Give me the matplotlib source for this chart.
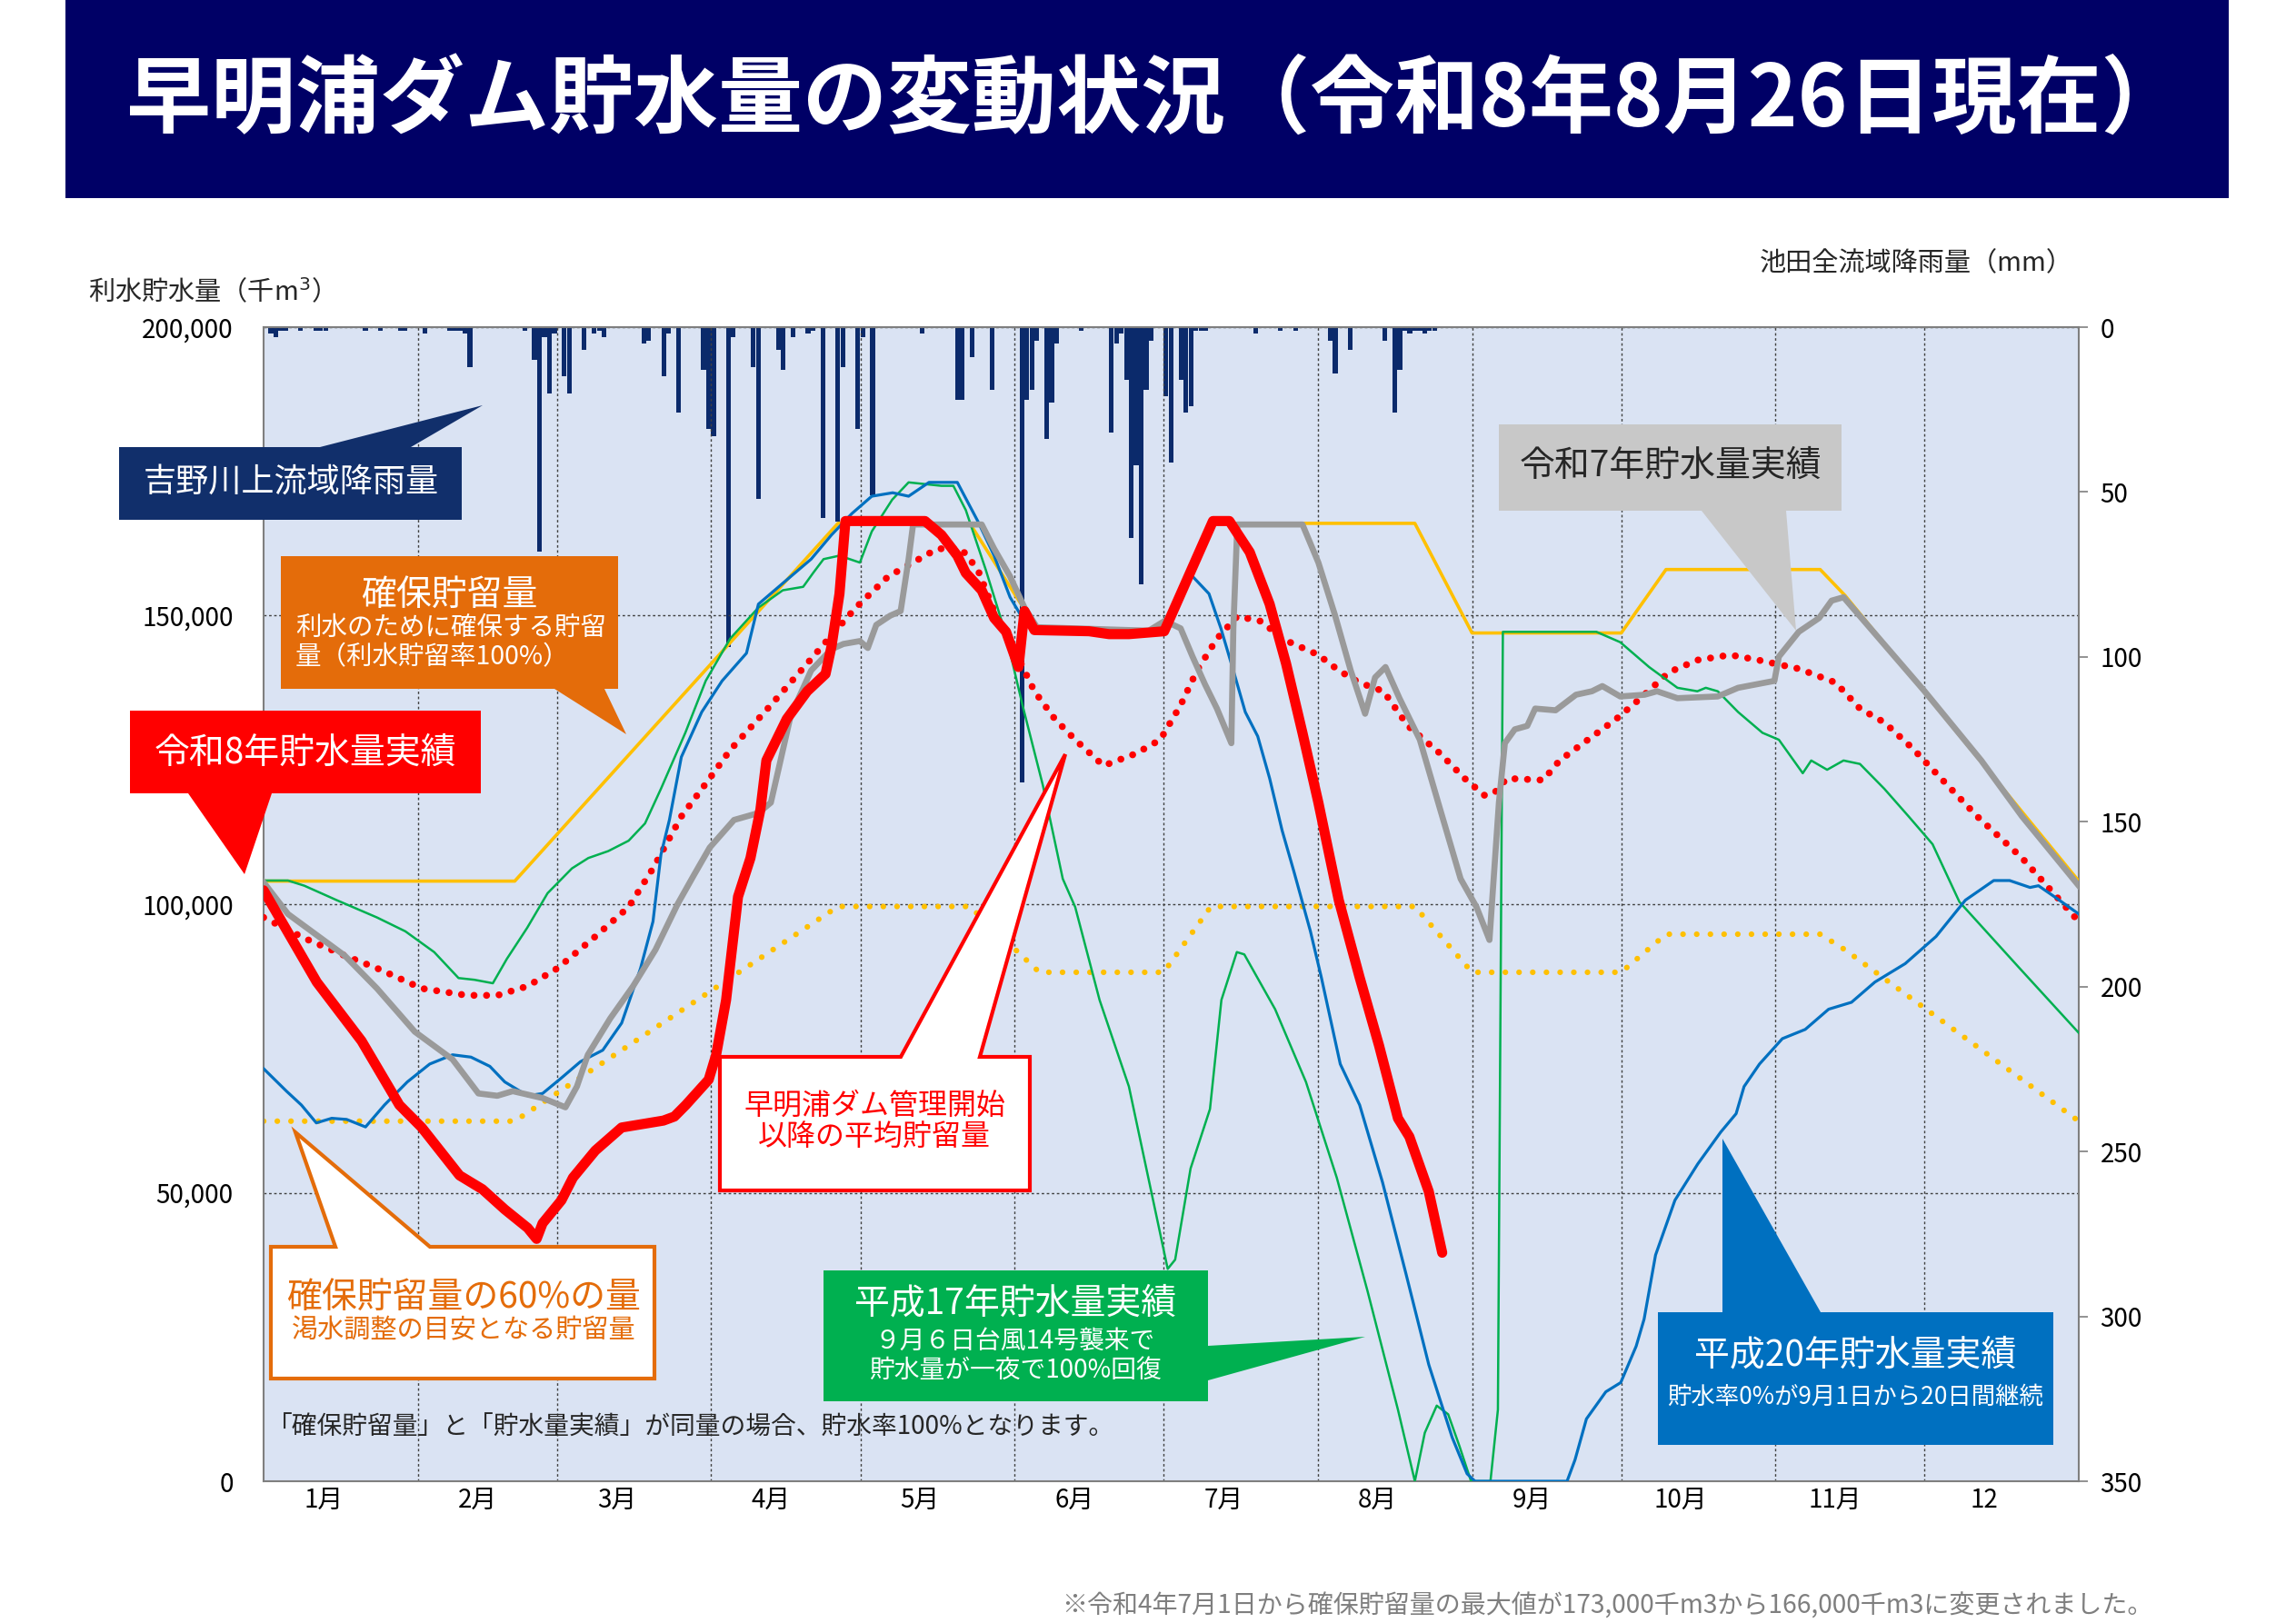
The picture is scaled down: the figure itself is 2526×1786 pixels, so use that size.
import matplotlib
matplotlib.use("Agg")
import matplotlib.pyplot as plt
import numpy as np
from matplotlib.patches import Polygon, Rectangle

plt.rcParams['font.family'] = ['Noto Sans CJK JP', 'DejaVu Sans']

W, H = 2526, 1786

# 月の区切り（1月1日からの日数）
month_starts = [0, 31, 59, 90, 120, 151, 181, 212, 243, 273, 304, 334]
month_labels = ["1月", "2月", "3月", "4月", "5月", "6月", "7月", "8月", "9月", "10月", "11月", "12"]

# 確保貯留量（千m3 / 1000）
rule_days = [0, 50.5, 115.5, 142, 156, 181, 190.5, 231.5, 243, 273, 282, 313, 318, 365]
rule_vals = [104, 104, 166, 166, 147, 147, 166, 166, 147, 147, 158, 158, 153.5, 104]
rule60_vals = [62.4, 62.4, 99.6, 99.6, 88.2, 88.2, 99.6, 99.6, 88.2, 88.2, 94.8, 94.8, 92.1, 62.4]

# 令和8年
r8_days = [0, 10.7, 19.7, 27.3, 31.8, 39.4, 44.0, 48.5, 53.1, 54.9, 56.1, 59.9, 62.2, 66.7,
           72.0, 80.4, 82.6, 84.9, 89.5, 91.0, 93.0, 95.4, 97.9, 99.9, 101.1, 105.2, 109.3,
           113.0, 114.2, 115.8, 117.0, 133.0, 136.3, 139.5, 141.2, 144.4, 146.9, 149.3,
           151.8, 153.0, 155.0, 166, 170, 174, 181.1, 190.9, 194.2, 198.3, 202.3, 205.6,
           208.9, 212.1, 216.2, 220.4, 224.3, 228.1, 230.4, 234.3, 237]
r8_vals = [102.4, 86.5, 76.3, 65.2, 61.3, 53.0, 50.6, 47.1, 43.9, 42.0, 44.7, 48.7, 52.6, 57.3,
           61.3, 62.5, 63.2, 65.2, 69.6, 73.9, 83.4, 101.3, 108.0, 116.4, 124.9, 132.1, 136.9,
           139.9, 144.7, 153.8, 166.4, 166.4, 164.0, 160.4, 157.4, 154.4, 149.6, 147.2,
           141.1, 150.8, 147.5, 147.3, 146.8, 146.8, 147.3, 166.4, 166.4, 161.0, 152.0, 141.7,
           129.7, 117.6, 100.7, 87.3, 75.5, 62.9, 59.7, 50.2, 39.6]

# 令和7年
r7_days = [0, 4.9, 10.6, 16.3, 22.8, 30.4, 38.0, 43.2, 47.0, 50.1, 56.1, 60.7, 63.0, 65.2, 69.7,
           74.3, 78.8, 83.3, 86.5, 89.7, 94.6, 99.5, 102.0, 103.6, 106.0, 110.1, 114.2, 116.6,
           119.9, 121.5, 123.2, 126, 128.1, 129.7, 130.6, 144.4, 146.9, 150.1, 153.0, 155.5, 178,
           181.2, 184.4, 186.8, 189.3, 191.7, 194.6, 195.0, 195.8, 208.9, 212.1, 215.4, 218.6,
           221.5, 223.5, 225.6, 228.4, 232.5, 236.6, 240.7, 243.9, 246.5, 248.4, 249.6, 251.6,
           254.1, 255.7, 259.8, 263.9, 267.1, 269.2, 272.8, 277.7, 280.2, 284.3, 292.4, 296.5,
           303.8, 304.7, 308.7, 312.8, 315.3, 317.7, 334.0, 345.4, 353.6, 365]
r7_vals = [103.8, 98.3, 94.7, 91.1, 85.4, 77.9, 73.1, 67.2, 66.8, 67.6, 66.4, 64.8, 68.4, 73.9, 80.2,
           85.8, 92.1, 100.1, 105.0, 109.8, 114.6, 115.8, 117.6, 123.6, 132.7, 140.5, 144.2, 145.1,
           145.6, 144.4, 148.4, 150.0, 150.8, 159.8, 165.8, 165.8, 161.6, 156.8, 151.4, 148, 147.4,
           149.1, 147.8, 142.9, 138.1, 133.9, 127.9, 147.8, 165.8, 165.8, 159.2, 150.2, 140.5,
           133.0, 139.3, 141.1, 135.7, 128.5, 116.4, 104.4, 99.5, 93.8, 117.6, 127.9, 130.3,
           130.9, 133.9, 133.6, 136.3, 136.9, 137.8, 136.0, 136.3, 136.9, 135.7, 136.0, 137.5,
           138.7, 142.9, 147.2, 149.6, 152.6, 153.2, 136.9, 124.9, 115.2, 103.2]

# 早明浦ダム管理開始以降の平均
avg_days = [0, 8.2, 16.3, 22.8, 31.8, 40.9, 47.0, 53.1, 59.1, 66.7, 73.4, 78.3, 84.0, 89.7, 93.8,
            102.0, 109.3, 114.2, 119.1, 125.6, 128.1, 133.0, 135.5, 140.3, 143.6, 146.9, 150.9,
            155.0, 159.1, 163.2, 168.9, 175.4, 180.3, 184.4, 187.7, 191.7, 195.8, 200.7, 204.8,
            212.1, 216.2, 220.3, 225.2, 230.1, 236.6, 241.5, 245.6, 247.6, 250.0, 257.3, 260.6,
            266.3, 272.0, 276.9, 282.6, 288.3, 294.9, 300.6, 308.7, 316.1, 321.0, 325.9, 331.6,
            337.3, 344.6, 353.6, 365]
avg_vals = [97.7, 94.1, 91.1, 88.9, 85.4, 84.2, 84.2, 85.8, 88.9, 94.4, 99.5, 106.2, 115.2, 121.8, 126.7,
            134.5, 141.7, 146.6, 151.4, 156.8, 158.0, 160.4, 161.6, 161.6, 158.0, 150.8, 144.2,
            136.9, 132.1, 128.5, 124.0, 126.1, 128.5, 134.5, 140.5, 146.0, 149.9, 149.0, 146.0,
            143.2, 140.5, 138.4, 136.9, 130.9, 126.1, 121.8, 118.8, 119.4, 121.8, 121.5, 124.9,
            128.5, 132.1, 135.7, 140.2, 142.3, 143.2, 142.3, 140.8, 138.4, 133.9, 131.5, 127.0,
            121.8, 115.2, 108.0, 97.0]

# 平成17年
h17_days = [0, 4.9, 8.2, 14.7, 22.8, 28.5, 34.3, 39.2, 42.4, 46.1, 48.9, 53.0, 57.1, 62.0, 65.3,
            69.3, 73.4, 76.7, 79.9, 84.8, 88.9, 93.8, 99.5, 104.4, 108.5, 110.5, 112.6, 115.8,
            119.9, 122.3, 126.4, 129.7, 136.3, 138.7, 141.2, 145.2, 149.3, 152.6, 156.7, 160.7,
            163.2, 168.1, 174.0, 181.8, 183.3, 186.4, 190.3, 192.6, 195.7, 197.2, 203.4, 209.6,
            215.8, 222.0, 228.1, 231.5, 233.5, 235.9, 238.2, 240.5, 242.8, 246.7, 248.2, 249.2,
            268, 272.8, 278.6, 284.3, 288.3, 290.0, 292.4, 296.5, 301.4, 304.7, 309.5, 311.2,
            314.4, 317.7, 321.0, 325.9, 330.8, 335.6, 341, 353, 365]
h17_vals = [104.1, 104.1, 103.2, 100.7, 97.7, 95.3, 91.7, 87.2, 86.9, 86.3, 90.5, 95.9, 101.9, 106.2, 108.0,
            109.2, 111.0, 114.0, 120.0, 129.7, 138.7, 146.0, 151.4, 154.4, 155.0, 157.4, 159.8, 160.4,
            159.2, 164.6, 170.1, 173.1, 172.5, 172.5, 168.3, 158.0, 146.6, 134.5, 120.6, 104.4,
            99.5, 83.4, 68.4, 36.8, 38.4, 54.2, 64.5, 83.4, 91.7, 91.3, 81.8, 69.2,
            52.6, 32.9, 12.4, 0, 8.4, 13.1, 11.6, 6.0, 0, 0, 12.4, 147.2,
            147.2, 145.4, 141.1, 137.5, 136.9, 137.5, 136.9, 133.3, 129.7, 128.5, 122.7, 124.9,
            123.3, 124.9, 124.3, 120.0, 115.2, 110.4, 100.4, 89.0, 77.7]

# 平成20年
h20_days = [0, 4.6, 7.6, 10.6, 13.7, 16.7, 20.5, 24.3, 28.9, 33.4, 38.0, 41.7, 45.5, 48.5, 53.1,
            56.1, 59.9, 63.7, 68.2, 72.0, 75.8, 78.3, 79.9, 81.6, 84.0, 88.1, 92.2, 97.1, 99.5,
            105.2, 110.1, 114.2, 118.3, 122.3, 126.5, 129.7, 133.8, 139.5, 143.6, 146.9, 150.1,
            153, 158, 181, 185, 186.8, 190.1, 192.5, 195.0, 197.4, 199.9, 202.3, 204.8, 207.2,
            210.5, 212.7, 216.5, 220.4, 225.0, 229.7, 234.3, 239.0, 242.0, 243.6, 262.1, 263.7,
            266.0, 269.9, 272.9, 276.0, 277.6, 279.9, 283.8, 288.4, 293.0, 296.1, 297.7, 300.8,
            305.4, 310.0, 314.7, 319.3, 324.0, 330.1, 336.3, 342.2, 347.9, 351.1, 355.2, 356.9,
            360.1, 365]
h20_vals = [71.5, 67.6, 65.2, 62.1, 62.9, 62.7, 61.4, 65.2, 69.2, 72.3, 73.9, 73.5, 71.9, 69.2, 66.8,
            67.2, 69.9, 72.7, 74.7, 79.4, 88.9, 97.0, 108.6, 114.6, 125.5, 133.3, 138.7, 143.5, 152.0,
            156.2, 159.8, 164.0, 167.7, 170.7, 171.3, 170.7, 173.1, 173.1, 166.4, 160.4, 153.2,
            149, 147.5, 147.5, 155, 156.8, 153.8, 147.8, 140.5, 133.3, 129.1, 121.8, 112.8, 105.6,
            95.3, 87.3, 72.3, 65.2, 51.8, 36.0, 20.2, 7.6, 1.3, 0, 0, 3.7,
            10.8, 15.5, 17.1, 23.4, 28.1, 39.2, 48.7, 55.0, 60.5, 63.7, 68.4, 72.3,
            76.7, 78.3, 81.8, 83.0, 86.5, 89.7, 94.4, 100.7, 104.1, 104.1, 102.9, 103.2,
            101.3, 98.3]

# 吉野川上流域降雨量（mm/日）
rain_days = [1, 2, 3, 4, 7, 10, 11, 12, 20, 23, 27, 28, 32, 37, 38, 39, 40, 41, 52, 54, 55, 56,
             57, 58, 60, 61, 64, 66, 67, 68, 76, 77, 80, 81, 83, 88, 89, 90, 93, 94, 98, 99, 103,
             104, 106, 109, 110, 112, 115, 116, 119, 120, 122, 132, 139, 140, 142, 146, 152, 153,
             154, 155, 157, 158, 159, 164, 170, 171, 172, 173, 174, 175, 176, 177, 178, 181, 182,
             184, 185, 186, 187, 188, 189, 199, 204, 207, 214, 215, 218, 225, 227, 228, 229, 230,
             231, 232, 233, 234, 235]
rain_mm = [2, 3, 1, 1, 1, 1, 1, 1, 1, 1, 1, 1, 2, 1, 1, 1, 2, 12, 1, 10, 68, 3,
           20, 2, 15, 20, 7, 2, 1, 3, 5, 4, 15, 2, 26, 13, 31, 33, 97, 3, 12, 52, 7,
           13, 3, 2, 1, 58, 59, 12, 31, 3, 51, 2, 22, 22, 9, 19, 138, 22,
           19, 4, 34, 23, 5, 1, 32, 5, 2, 16, 64, 42, 78, 19, 4, 21, 41,
           16, 26, 24, 1, 1, 1, 2, 1, 1, 4, 14, 7, 4, 26, 13, 1, 2,
           1, 1, 2, 1, 1]


def k(vals):
    return np.array(vals) * 1000


def callout(ov, box, side, base, tip, fc, ec="none", lw=0):
    x0, y0, x1, y1 = box
    b1, b2 = base
    if side == "top":
        pts = [(x0, y0), (b1, y0), tip, (b2, y0), (x1, y0), (x1, y1), (x0, y1)]
    elif side == "bottom":
        pts = [(x0, y0), (x1, y0), (x1, y1), (b2, y1), tip, (b1, y1), (x0, y1)]
    else:
        pts = [(x0, y0), (x1, y0), (x1, b1), tip, (x1, b2), (x1, y1), (x0, y1)]
    ov.add_patch(Polygon(pts, closed=True, fc=fc, ec=ec, lw=lw, joinstyle="miter", zorder=2))


fig = plt.figure(figsize=(W / 100, H / 100), dpi=100)
pos = [290 / W, 1 - 1630 / H, 1997 / W, 1270 / H]

# 降雨量（右軸、後ろ側）
ax2 = fig.add_axes(pos)
ax2.set_facecolor("#dae3f3")
ax2.bar(rain_days, rain_mm, width=0.95, align="edge", color="#0b2a6b", zorder=2)
ax2.set_xlim(0, 365)
ax2.set_ylim(350, 0)
ax2.yaxis.tick_right()
ax2.set_yticks(range(0, 351, 50))
ax2.tick_params(axis="y", length=7, width=1.2, color="#7f7f7f", labelsize=20, pad=10)
ax2.set_xticks([])
for s in ax2.spines.values():
    s.set_visible(False)

# 貯水量（左軸、前側）
ax = fig.add_axes(pos)
ax.patch.set_visible(False)
ax.set_xlim(0, 365)
ax.set_ylim(0, 200000)
ax.set_yticks(range(0, 200001, 50000))
ax.set_yticklabels([f"{v:,}" for v in range(0, 200001, 50000)])
ax.set_xticks([m + 12 for m in month_starts])
ax.set_xticklabels(month_labels)
ax.set_xticks(month_starts[1:], minor=True)
ax.tick_params(axis="both", which="both", length=0, labelsize=20)
ax.tick_params(axis="y", pad=24)
ax.tick_params(axis="x", pad=4)
ax.grid(axis="y", which="major", color="#404040", lw=1.0, ls=(0, (2, 2)))
ax.grid(axis="x", which="minor", color="#404040", lw=1.0, ls=(0, (2, 2)))
ax.grid(axis="x", which="major", visible=False)
for s in ax.spines.values():
    s.set_color("#7f7f7f")
    s.set_linewidth(1.5)

dot = dict(dash_capstyle="round", solid_capstyle="round")
ax.plot(rule_days, k(rule60_vals), color="#ffc000", lw=4.5, ls=(0, (0.01, 2.4)), zorder=2, **dot)
ax.plot(rule_days, k(rule_vals), color="#ffc000", lw=2.6, zorder=3)
ax.plot(avg_days, k(avg_vals), color="#ff0000", lw=5.5, ls=(0, (0.01, 1.8)), zorder=4, **dot)
ax.plot(h17_days, k(h17_vals), color="#00b050", lw=1.8, zorder=5)
ax.plot(h20_days, k(h20_vals), color="#0070c0", lw=2.3, zorder=6)
ax.plot(r7_days, k(r7_vals), color="#9a9a9a", lw=4.8, zorder=7, solid_joinstyle="round")
ax.plot(r8_days, k(r8_vals), color="#ff0000", lw=8, zorder=8, solid_joinstyle="round",
        solid_capstyle="round")

# 注記・吹き出し（ピクセル座標）
ov = fig.add_axes([0, 0, 1, 1], zorder=10)
ov.set_xlim(0, W)
ov.set_ylim(H, 0)
ov.axis("off")
ov.patch.set_visible(False)

ov.add_patch(Rectangle((72, 0), 2380, 218, fc="#000066", ec="none"))
ov.text(1272, 112, "早明浦ダム貯水量の変動状況（令和8年8月26日現在）", color="white",
        fontsize=67, fontweight="bold", ha="center", va="center")

ov.text(97, 322, "利水貯水量（千m$^3$）", fontsize=21, ha="left", va="center", color="#262626")
ov.text(2281, 290, "池田全流域降雨量（mm）", fontsize=21, ha="right", va="center", color="#262626")

callout(ov, (131, 492, 508, 572), "top", (352, 452), (531, 446), "#112f6b")
ov.text(320, 532, "吉野川上流域降雨量", fontsize=26, color="white", ha="center", va="center")

callout(ov, (309, 612, 680, 758), "bottom", (610, 665), (689, 808), "#e46c0a")
ov.text(494, 655, "確保貯留量", fontsize=28, color="white", ha="center", va="center")
ov.text(325, 691, "利水のために確保する貯留", fontsize=20.5, color="white", ha="left", va="center")
ov.text(325, 723, "量（利水貯留率100%）", fontsize=20.5, color="white", ha="left", va="center")

callout(ov, (143, 782, 529, 873), "bottom", (207, 299), (269, 962), "#ff0000")
ov.text(336, 829, "令和8年貯水量実績", fontsize=28, color="white", ha="center", va="center")

callout(ov, (298, 1372, 720, 1517), "top", (369, 473), (325, 1246), "white", "#e46c0a", 3)
ov.text(510, 1428, "確保貯留量の60%の量", fontsize=28, color="#e46c0a", ha="center", va="center")
ov.text(510, 1464, "渇水調整の目安となる貯留量", fontsize=21, color="#e46c0a", ha="center", va="center")

callout(ov, (792, 1163, 1133, 1310), "top", (991, 1078), (1172, 830), "white", "#ff0000", 3)
ov.text(962, 1217, "早明浦ダム管理開始", fontsize=23, color="#ff0000", ha="center", va="center")
ov.text(962, 1251, "以降の平均貯留量", fontsize=23, color="#ff0000", ha="center", va="center")

callout(ov, (906, 1398, 1329, 1542), "right", (1481, 1519), (1502, 1471), "#00b050")
ov.text(1117, 1434, "平成17年貯水量実績", fontsize=28, color="white", ha="center", va="center")
ov.text(1117, 1476, "９月６日台風14号襲来で", fontsize=20, color="white", ha="center", va="center")
ov.text(1117, 1508, "貯水量が一夜で100%回復", fontsize=20, color="white", ha="center", va="center")

callout(ov, (1824, 1444, 2259, 1590), "top", (1895, 2003), (1895, 1253), "#0070c0")
ov.text(2041, 1491, "平成20年貯水量実績", fontsize=28, color="white", ha="center", va="center")
ov.text(2041, 1537, "貯水率0%が9月1日から20日間継続", fontsize=19, color="white", ha="center", va="center")

callout(ov, (1649, 467, 2026, 562), "bottom", (1872, 1965), (1976, 694), "#c8c8c8")
ov.text(1838, 513, "令和7年貯水量実績", fontsize=28, color="#262626", ha="center", va="center")

ov.text(294, 1571, "「確保貯留量」と「貯水量実績」が同量の場合、貯水率100%となります。",
        fontsize=20, color="#262626", ha="left", va="center")
ov.text(2368, 1768, "※令和4年7月1日から確保貯留量の最大値が173,000千m3から166,000千m3に変更されました。",
        fontsize=20.2, color="#7f7f7f", ha="right", va="center")

fig.savefig("out.png", dpi=100, facecolor="white")
